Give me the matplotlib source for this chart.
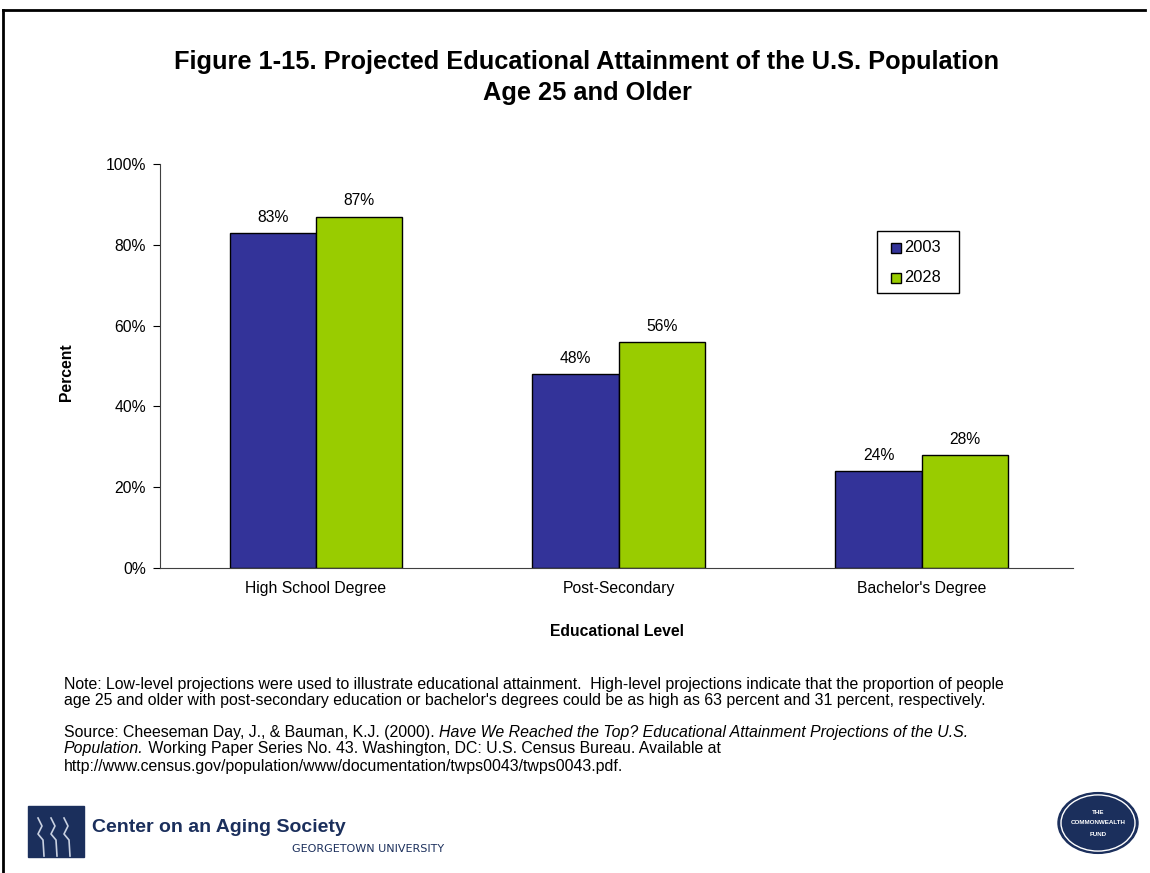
import matplotlib.pyplot as plt
import numpy as np
from matplotlib.patches import Rectangle, Circle
from matplotlib.lines import Line2D

plt.rcParams['font.family'] = ['Liberation Sans', 'DejaVu Sans']

categories = ["High School Degree", "Post-Secondary", "Bachelor's Degree"]
years = ["2003", "2028"]
pct_2003 = [83, 48, 24]
pct_2028 = [87, 56, 28]
yticks = [0, 20, 40, 60, 80, 100]
colors = ["#333399", "#99CC00"]

W, H = 1150, 873
fig = plt.figure(figsize=(W / 100, H / 100), dpi=100)

def fx(px):
    return px / W

def fy(py):
    return 1 - py / H

ax = fig.add_axes([fx(160), fy(568), fx(1073) - fx(160), fy(164) - fy(568)])

fs_ax = 11.3
x = np.arange(len(categories))
bw = 0.285
bars1 = ax.bar(x - bw / 2, pct_2003, bw, color=colors[0], edgecolor="black", linewidth=1, label=years[0])
bars2 = ax.bar(x + bw / 2, pct_2028, bw, color=colors[1], edgecolor="black", linewidth=1, label=years[1])
for bars, vals in ((bars1, pct_2003), (bars2, pct_2028)):
    for b, v in zip(bars, vals):
        ax.text(b.get_x() + b.get_width() / 2, v + 2.0, f"{v}%", ha="center", va="bottom", fontsize=fs_ax)

ax.set_xlim(-0.515, 2.5)
ax.set_ylim(0, 100)
ax.set_yticks(yticks)
ax.set_yticklabels([f"{t}%" for t in yticks], fontsize=fs_ax)
ax.set_xticks(x)
ax.set_xticklabels(categories, fontsize=fs_ax)
ax.tick_params(axis="x", length=0, pad=9)
ax.tick_params(axis="y", length=5, direction="out", pad=5)
for s in ("top", "right"):
    ax.spines[s].set_visible(False)
ax.spines["left"].set_color("#404040")
ax.spines["bottom"].set_color("#404040")

# legend box drawn by hand
fig.add_artist(Rectangle((fx(877), fy(293)), fx(959) - fx(877), fy(231) - fy(293),
                         fill=False, ec="black", lw=1))
for i, (yr, c) in enumerate(zip(years, colors)):
    yc = 248 + i * 30
    fig.add_artist(Rectangle((fx(891), fy(yc + 5)), 10 / W, 10 / H, fc=c, ec="black", lw=1))
    fig.text(fx(904), fy(yc), yr, va="center", fontsize=fs_ax + 0.5)

fig.text(fx(587), fy(62), "Figure 1-15. Projected Educational Attainment of the U.S. Population",
         ha="center", va="center", fontsize=18.3, fontweight="bold")
fig.text(fx(587), fy(93), "Age 25 and Older", ha="center", va="center", fontsize=18.3, fontweight="bold")
fig.text(fx(66), fy(372), "Percent", rotation=90, ha="center", va="center", fontsize=fs_ax, fontweight="bold")
fig.text(fx(617), fy(631), "Educational Level", ha="center", va="center", fontsize=fs_ax, fontweight="bold")

# notes and source
fs = 11.4
lx = fx(64)
fig.text(lx, fy(684), "Note: Low-level projections were used to illustrate educational attainment.  High-level projections indicate that the proportion of people",
         va="center", fontsize=fs)
fig.text(lx, fy(701), "age 25 and older with post-secondary education or bachelor's degrees could be as high as 63 percent and 31 percent, respectively.",
         va="center", fontsize=fs)

fig.canvas.draw()
renderer = fig.canvas.get_renderer()

def run(pieces, py):
    xpos = lx
    for txt, style in pieces:
        t = fig.text(xpos, fy(py), txt, va="center", fontsize=fs, style=style)
        bb = t.get_window_extent(renderer)
        xpos += bb.width / W

run([("Source: Cheeseman Day, J., & Bauman, K.J. (2000). ", "normal"),
     ("Have We Reached the Top? Educational Attainment Projections of the U.S.", "italic")], 732)
run([("Population.", "italic"),
     (" Working Paper Series No. 43. Washington, DC: U.S. Census Bureau. Available at", "normal")], 749)
fig.text(lx, fy(767), "http://www.census.gov/population/www/documentation/twps0043/twps0043.pdf.", va="center", fontsize=fs)

# frame lines
fig.add_artist(Line2D([fx(3), fx(1145)], [fy(10), fy(10)], color="black", lw=2))
fig.add_artist(Line2D([fx(3), fx(3)], [fy(10), 0], color="black", lw=2))

# Center on an Aging Society logo
navy = "#1B2F5C"
fig.add_artist(Rectangle((fx(28), fy(857)), fx(84) - fx(28), fy(806) - fy(857), color=navy))
for i in range(3):
    x0 = 38 + i * 13
    fig.add_artist(Line2D([fx(x0), fx(x0 + 4), fx(x0), fx(x0 + 5), fx(x0 + 6)],
                          [fy(818), fy(826), fy(834), fy(840), fy(856)], color="#C8D0E0", lw=1.2))
fig.text(fx(92), fy(828), "Center on an Aging Society", fontsize=14, fontweight="bold", color=navy,
         va="center")
fig.text(fx(292), fy(849), "GEORGETOWN UNIVERSITY", fontsize=8, color=navy, va="center",
         family=["DejaVu Sans"])

# Commonwealth Fund seal
fig.add_artist(Circle((fx(1098), fy(823)), 40 / W, color=navy, transform=fig.transFigure))
fig.add_artist(Circle((fx(1098), fy(823)), 37 / W, fill=False, ec="white", lw=1, transform=fig.transFigure))
for txt, py in (("THE", 812), ("COMMONWEALTH", 823), ("FUND", 834)):
    fig.text(fx(1098), fy(py), txt, ha="center", va="center", fontsize=4.5, color="white", fontweight="bold")

fig.savefig("out.png", dpi=100)
